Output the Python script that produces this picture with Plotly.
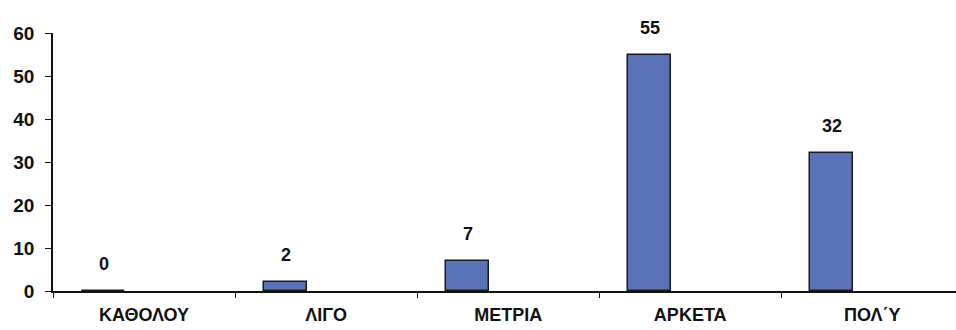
import plotly.graph_objects as go

categories = ["ΚΑΘΟΛΟΥ", "ΛΙΓΟ", "ΜΕΤΡΙΑ", "ΑΡΚΕΤΑ", "ΠΟΛ΄Υ"]
values = [0, 2, 7, 55, 32]
y_ticks = [0, 10, 20, 30, 40, 50, 60]

BAR_W = 0.236
BAR_OFF = -0.34

fig = go.Figure()
fig.add_trace(go.Bar(
    x=categories, y=values,
    width=BAR_W, offset=BAR_OFF,
    marker=dict(color="#5a72b8", line=dict(color="#1a1a1a", width=1.5)),
    showlegend=False,
))

for c, v in zip(categories, values):
    fig.add_annotation(
        x=c, y=v, xref="x", yref="y",
        text=str(v), showarrow=False,
        xshift=(BAR_OFF + BAR_W / 2) * 182,
        yshift=27,
        font=dict(family="Liberation Sans, Arial", size=18, color="#111", weight="bold"),
    )

fig.update_layout(
    width=956, height=330,
    margin=dict(l=53, r=0, t=33, b=39),
    paper_bgcolor="white", plot_bgcolor="white",
    bargap=0,
)
fig.update_xaxes(
    type="category",
    range=[-0.5, 4.46],
    showline=True, linecolor="#111", linewidth=1.5,
    ticks="outside", tickson="boundaries", ticklen=5, tickcolor="#111",
    showgrid=False, zeroline=False,
    tickfont=dict(family="Liberation Sans, Arial", size=18, color="#111", weight="bold"),
    ticklabelstandoff=7,
)
fig.update_yaxes(
    range=[0, 60], tickvals=y_ticks,
    showline=True, linecolor="#111", linewidth=1.5,
    ticks="outside", ticklen=6, tickcolor="#111",
    showgrid=False, zeroline=False,
    tickfont=dict(family="Liberation Sans, Arial", size=19, color="#111", weight="bold"),
    ticklabelstandoff=7,
)

fig.write_html(
    "out.html",
    config={"displayModeBar": False},
    post_script="document.body.style.margin='0';document.body.style.overflow='hidden';",
)
